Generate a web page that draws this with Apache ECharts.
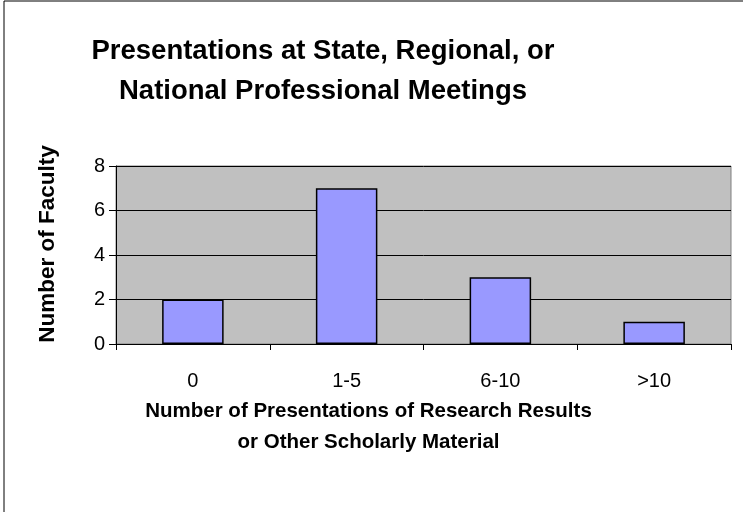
<!DOCTYPE html>
<html>
<head>
<meta charset="utf-8">
<script src="https://cdn.jsdelivr.net/npm/echarts@6/dist/echarts.min.js"></script>
<style>
  html, body { margin: 0; padding: 0; background: #fff; }
  #chart { width: 743px; height: 512px; }
</style>
</head>
<body>
<div id="chart"></div>
<script>
const categories = ['0', '1-5', '6-10', '>10'];
const faculty = [2, 7, 3, 1];
const yTicks = [0, 2, 4, 6, 8];

const myChart = echarts.init(document.getElementById('chart'));

const option = {
  animation: false,
  backgroundColor: '#fff',
  graphic: [
    {
      type: 'rect',
      shape: { x: 4, y: 1, width: 760, height: 530 },
      style: { fill: 'none', stroke: '#000', lineWidth: 1 },
      z: -1
    }
  ],
  title: {
    text: 'Presentations at State, Regional, or\nNational Professional Meetings',
    left: 318,
    top: 26,
    textAlign: 'center',
    textStyle: {
      fontFamily: 'Liberation Sans, Arial, sans-serif',
      fontWeight: 'bold',
      fontSize: 27.5,
      lineHeight: 40,
      color: '#000'
    }
  },
  grid: {
    left: 116,
    right: 12,
    top: 166,
    bottom: 168,
    show: true,
    backgroundColor: '#c0c0c0',
    borderColor: '#808080',
    borderWidth: 1
  },
  xAxis: {
    type: 'category',
    data: categories,
    name: 'Number of Presentations of Research Results\nor Other Scholarly Material',
    nameLocation: 'middle',
    nameGap: 52,
    nameTextStyle: {
      fontFamily: 'Liberation Sans, Arial, sans-serif',
      fontWeight: 'bold',
      fontSize: 20.5,
      lineHeight: 31,
      color: '#000',
      verticalAlign: 'top',
      padding: [0, 0, 0, -110]
    },
    axisLine: { lineStyle: { color: '#000', width: 1 } },
    axisTick: { show: true, length: 6, lineStyle: { color: '#000' } },
    axisLabel: {
      fontFamily: 'Liberation Sans, Arial, sans-serif',
      fontSize: 20,
      color: '#000',
      margin: 27
    }
  },
  yAxis: {
    type: 'value',
    min: yTicks[0],
    max: yTicks[yTicks.length - 1],
    interval: 2,
    name: 'Number of Faculty',
    nameLocation: 'middle',
    nameGap: 57,
    nameTextStyle: {
      fontFamily: 'Liberation Sans, Arial, sans-serif',
      fontWeight: 'bold',
      fontSize: 22.5,
      color: '#000',
      padding: [0, 0, 0, 22]
    },
    axisLine: { show: true, lineStyle: { color: '#000', width: 1 } },
    axisTick: { show: true, length: 7, lineStyle: { color: '#000' } },
    axisLabel: {
      fontFamily: 'Liberation Sans, Arial, sans-serif',
      fontSize: 20,
      color: '#000',
      margin: 11
    },
    splitLine: { show: true, lineStyle: { color: '#000', width: 1 } }
  },
  series: [
    {
      type: 'bar',
      data: faculty,
      barWidth: '40%',
      itemStyle: {
        color: '#9999ff',
        borderColor: '#000',
        borderWidth: 1.5
      }
    }
  ]
};

myChart.setOption(option);
</script>
</body>
</html>
